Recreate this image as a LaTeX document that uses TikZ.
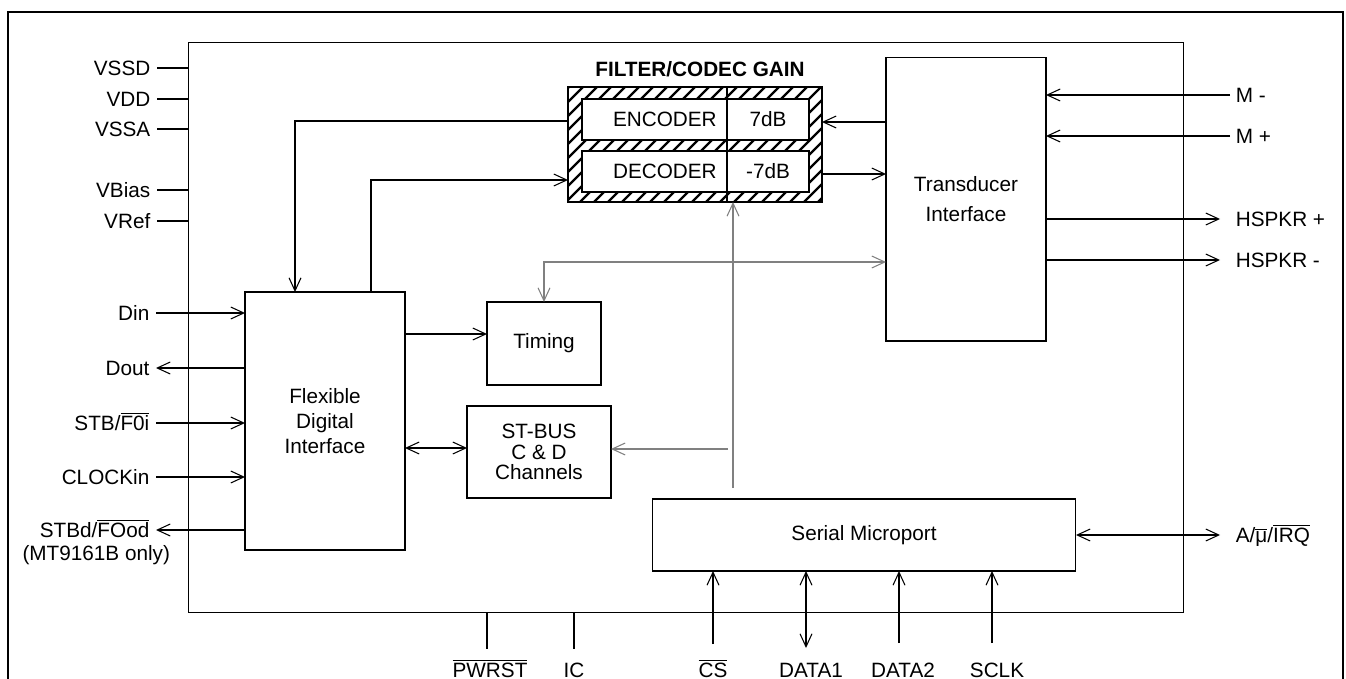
\documentclass[tikz,border=0pt]{standalone}
\usepackage{fontspec}
\setmainfont{Liberation Sans}
\usetikzlibrary{arrows.meta,positioning,calc}
\definecolor{ctlgray}{RGB}{128,128,128}
\newcommand{\ovl}[1]{$\overline{\mbox{#1}}$}
\tikzset{
  blk/.style={draw,inner sep=0pt,outer sep=0pt,align=center},
  pinl/.style={anchor=east,inner sep=3.5pt,text height=8.4pt,text depth=0pt},
  pinr/.style={anchor=west,inner sep=3pt,text height=8.4pt,text depth=0pt},
  pinb/.style={anchor=base,inner sep=0pt},
  ctl/.style={ctlgray,line width=0.6pt},
  hatch/.style={line width=1.25pt},
  pwr/.style={line width=1.7pt}
}

\begin{document}
\begin{tikzpicture}[x=0.02cm,y=-0.02cm,line width=0.6pt,>={Straight Barb[length=2.6mm,width=2.4mm]},font=\fontsize{11.8}{14}\selectfont]
\useasboundingbox (0,0) rectangle (1346,679);
\draw (8,679) -- (8,12) -- (1343,12) -- (1343,679);
\node[blk,minimum width=19.92cm,minimum height=11.42cm] (chip) at (686,327.5) {};

% blocks
\node[blk,minimum width=3.2cm,minimum height=5.16cm] (fdi) at (325,421) {Flexible\\Digital\\Interface};
\node[blk,minimum width=2.28cm,minimum height=1.66cm] (timing) at (544,343.5) {Timing};
\node[blk,minimum width=2.88cm,minimum height=1.84cm,font=\fontsize{11.8}{11.8}\selectfont] (stbus) at (539,452) {ST-BUS\\C \& D\\Channels};
\node[blk,minimum width=3.2cm,minimum height=5.68cm,font=\fontsize{11.8}{17}\selectfont] (trans) at (966,199) {Transducer\\Interface};
\node[blk,minimum width=8.48cm,minimum height=1.44cm] (serial) at (864,535) {Serial Microport};

% filter / codec gain
\node[font=\bfseries\fontsize{11.8}{14}\selectfont] (ttl) at (700,69) {FILTER/CODEC GAIN};
\node[blk,line width=1pt,minimum width=5.08cm,minimum height=2.3cm] (filt) at (695,144.5) {};
\begin{scope}
\clip (filt.south west) rectangle (filt.north east);
\foreach \h in {0,14,...,378} \draw[hatch] (454+\h,202) -- ++(115,-115);
\end{scope}
\node[blk,fill=white,minimum width=2.9cm,minimum height=0.82cm] (enc) at (654.5,119.5) {\quad ENCODER};
\node[blk,fill=white,minimum width=1.64cm,minimum height=0.82cm] (encg) at (768,119.5) {7dB};
\node[blk,fill=white,minimum width=2.9cm,minimum height=0.82cm] (dec) at (654.5,171.5) {\quad DECODER};
\node[blk,fill=white,minimum width=1.64cm,minimum height=0.82cm] (decg) at (768,171.5) {-7dB};
\draw (filt.north -| encg.west) -- (filt.south -| encg.west);

\draw[->] (filt.west |- 0,121) -| ([xshift=1cm]fdi.north west);
\draw[->] ([xshift=2.52cm]fdi.north west) |- (filt.west |- 0,180);
\draw[->] (trans.west |- 0,122) -- (filt.east |- 0,122);
\draw[->] (filt.east |- 0,174) -- (trans.west |- 0,174);
\draw[->] (fdi.east |- 0,334) -- (timing.west |- 0,334);
\draw[<->] (fdi.east |- 0,448) -- (stbus.west |- 0,448);

% control lines
\coordinate (tap) at (733,488);
\draw[ctl,->] (tap) -- (filt.south -| tap);
\draw[ctl,->] ([xshift=-0.1cm]tap |- 0,449) -- (stbus.east |- 0,449);
\draw[ctl,<->] (timing.north) |- (trans.west |- 0,262);

% left pins
\node[pinl] (vssd) at (157,68) {VSSD};
\node[pinl] (vdd) at (157,99) {VDD};
\node[pinl] (vssa) at (157,129) {VSSA};
\node[pinl] (vbias) at (157,190) {VBias};
\node[pinl] (vref) at (157,221) {VRef};
\foreach \p in {vssd,vdd,vssa,vbias,vref} \draw (\p.east) -- (chip.west |- \p.east);

\node[pinl] (din) at (156,313) {Din};
\node[pinl] (dout) at (156,368) {Dout};
\node[pinl] (stbi) at (156,423) {STB/\ovl{F0i}};
\node[pinl] (clk) at (156,477) {CLOCKin};
\node[pinl] (stbo) at (156,530) {STBd/\ovl{FOod}};
\node[pinr,anchor=west,inner sep=0pt] (note) at (22,553) {(MT9161B only)};
\foreach \p in {din,stbi,clk} \draw[->] (\p.east) -- (fdi.west |- \p.east);
\foreach \p in {dout,stbo} \draw[->] (fdi.west |- \p.east) -- (\p.east);

% right pins
\node[pinr] (mm) at (1230,95) {M -};
\node[pinr] (mp) at (1230,136) {M +};
\node[pinr] (hp) at (1230,219) {HSPKR +};
\node[pinr] (hm) at (1230,260) {HSPKR -};
\node[pinr] (amu) at (1230,535) {A/\ovl{μ}/\ovl{IRQ}};
\foreach \p in {mm,mp} \draw[->] (\p.west) -- (trans.east |- \p.west);
\foreach \p in {hp,hm} \draw[->,shorten >=0.2cm] (trans.east |- \p.west) -- (\p.west);
\draw[<->,shorten >=0.2cm] (serial.east) -- (amu.west);

% bottom pins
\coordinate (ppw) at (487,649);
\coordinate (pic) at (574,649);
\coordinate (pcs) at (713,644);
\coordinate (pd1) at (806,648);
\coordinate (pd2) at (899,643);
\coordinate (psc) at (992,643);
\draw[pwr] (chip.south -| ppw) -- (ppw);
\draw[pwr] (chip.south -| pic) -- (pic);
\draw[->] (pcs) -- (serial.south -| pcs);
\draw[<->] (pd1) -- (serial.south -| pd1);
\draw[->] (pd2) -- (serial.south -| pd2);
\draw[->] (psc) -- (serial.south -| psc);
\node[pinb] (lpw) at (490,677) {\ovl{PWRST}};
\node[pinb] (lic) at (574,677) {IC};
\node[pinb] (lcs) at (713,677) {\ovl{CS}};
\node[pinb] (ld1) at (811,677) {DATA1};
\node[pinb] (ld2) at (903,677) {DATA2};
\node[pinb] (lsc) at (997,677) {SCLK};
\end{tikzpicture}
\end{document}
